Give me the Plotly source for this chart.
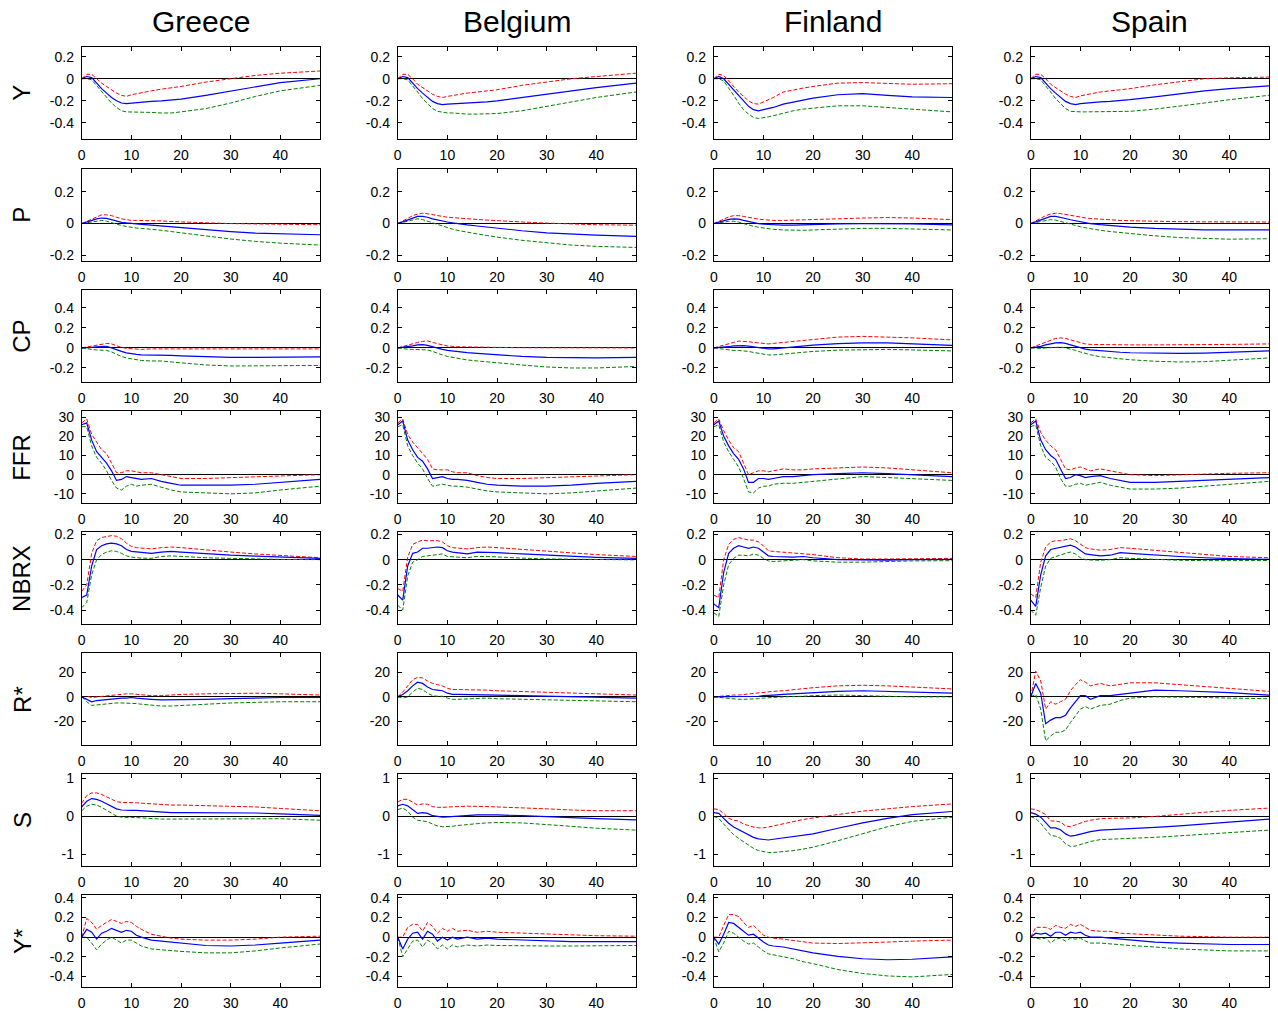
import plotly.graph_objects as go

W, H = 1278, 1017

LAGS = [0, 1, 2, 3, 4, 5, 6, 7, 8, 9, 10, 11, 12, 14, 16, 18, 20, 25, 30, 35, 40, 48]
COUNTRIES = ["Greece", "Belgium", "Finland", "Spain"]
VARIABLES = ["Y", "P", "CP", "FFR", "NBRX", "R*", "S", "Y*"]

Y_RANGES = {"Y": [-0.545, 0.29], "P": [-0.235, 0.345], "CP": [-0.34, 0.58], "FFR": [-14.8, 33.3],
            "NBRX": [-0.51, 0.22], "R*": [-39.5, 36], "S": [-1.31, 1.12], "Y*": [-0.51, 0.43]}
Y_TICKS = {"Y": [0.2, 0, -0.2, -0.4], "P": [0.2, 0, -0.2], "CP": [0.4, 0.2, 0, -0.2],
           "FFR": [30, 20, 10, 0, -10], "NBRX": [0.2, 0, -0.2, -0.4], "R*": [20, 0, -20],
           "S": [1, 0, -1], "Y*": [0.4, 0.2, 0, -0.2, -0.4]}
Y_TICKTEXT = {"Y": ["0.2", "0", "-0.2", "-0.4"], "P": ["0.2", "0", "-0.2"], "CP": ["0.4", "0.2", "0", "-0.2"],
              "FFR": ["30", "20", "10", "0", "-10"], "NBRX": ["0.2", "0", "-0.2", "-0.4"], "R*": ["20", "0", "-20"],
              "S": ["1", "0", "-1"], "Y*": ["0.4", "0.2", "0", "-0.2", "-0.4"]}
X_TICKS = [0, 10, 20, 30, 40]

# ---------------- Y ----------------
Y_GR_HI = [0, .04, .04, 0, -.04, -.07, -.10, -.13, -.15, -.16, -.145, -.135, -.125, -.11, -.095, -.085, -.07, -.03, 0, .03, .05, .07]
Y_GR_MED = [0, .02, .01, -.04, -.09, -.13, -.17, -.20, -.22, -.225, -.22, -.215, -.21, -.205, -.20, -.195, -.185, -.15, -.11, -.07, -.035, 0]
Y_GR_LO = [0, 0, -.01, -.06, -.12, -.17, -.22, -.26, -.29, -.30, -.30, -.30, -.30, -.305, -.31, -.31, -.30, -.27, -.22, -.16, -.11, -.06]
Y_BE_HI = [0, .04, .04, 0, -.05, -.08, -.11, -.14, -.16, -.17, -.16, -.15, -.145, -.13, -.12, -.11, -.10, -.06, -.03, 0, .02, .05]
Y_BE_MED = [0, .02, .01, -.04, -.09, -.13, -.17, -.205, -.225, -.235, -.23, -.228, -.225, -.22, -.215, -.21, -.20, -.17, -.14, -.11, -.08, -.04]
Y_BE_LO = [0, 0, -.01, -.06, -.12, -.18, -.23, -.27, -.295, -.305, -.31, -.31, -.315, -.32, -.32, -.32, -.315, -.29, -.25, -.21, -.17, -.12]
Y_FI_HI = [0, .04, .03, -.02, -.07, -.12, -.16, -.20, -.225, -.23, -.21, -.19, -.17, -.12, -.10, -.085, -.07, -.04, -.035, -.045, -.05, -.045]
Y_FI_MED = [0, .02, 0, -.05, -.10, -.15, -.20, -.25, -.28, -.29, -.28, -.27, -.26, -.23, -.21, -.19, -.175, -.145, -.135, -.15, -.165, -.17]
Y_FI_LO = [0, 0, -.02, -.08, -.15, -.22, -.28, -.32, -.35, -.36, -.355, -.345, -.335, -.31, -.29, -.275, -.265, -.245, -.245, -.26, -.28, -.30]
Y_ES_HI = [0, .04, .04, 0, -.05, -.08, -.11, -.14, -.16, -.17, -.155, -.145, -.135, -.12, -.11, -.10, -.09, -.055, -.025, 0, .008, .015]
Y_ES_MED = [0, .02, .01, -.04, -.09, -.13, -.17, -.205, -.225, -.235, -.225, -.22, -.22, -.21, -.205, -.20, -.19, -.165, -.135, -.11, -.09, -.065]
Y_ES_LO = [0, 0, -.01, -.06, -.12, -.18, -.23, -.27, -.295, -.30, -.30, -.30, -.30, -.30, -.30, -.298, -.295, -.275, -.25, -.22, -.19, -.15]

# ---------------- P ----------------
P_GR_HI = [0, .015, .03, .045, .055, .055, .05, .04, .03, .025, .02, .02, .02, .02, .017, .013, .01, .005, 0, -.002, -.005, -.007]
P_GR_MED = [0, .01, .02, .03, .035, .033, .025, .015, .008, .004, 0, -.002, -.005, -.01, -.015, -.02, -.025, -.04, -.05, -.06, -.065, -.07]
P_GR_LO = [0, .005, .01, .018, .02, .015, .005, -.005, -.012, -.018, -.025, -.028, -.03, -.035, -.042, -.05, -.058, -.078, -.097, -.112, -.123, -.135]
P_BE_HI = [0, .018, .035, .05, .06, .065, .062, .055, .05, .045, .04, .037, .034, .03, .026, .022, .018, .01, .003, -.003, -.007, -.01]
P_BE_MED = [0, .012, .025, .037, .045, .045, .04, .03, .022, .015, .01, .005, 0, -.008, -.015, -.022, -.03, -.045, -.058, -.067, -.073, -.08]
P_BE_LO = [0, .008, .016, .025, .03, .025, .015, .003, -.008, -.018, -.027, -.035, -.042, -.055, -.065, -.075, -.085, -.105, -.122, -.135, -.143, -.15]
P_FI_HI = [0, .015, .03, .042, .05, .05, .045, .038, .032, .028, .025, .022, .02, .02, .021, .023, .025, .03, .035, .038, .035, .025]
P_FI_MED = [0, .01, .02, .027, .03, .028, .02, .012, .005, 0, -.004, -.006, -.008, -.01, -.01, -.008, -.005, -.002, 0, 0, -.002, -.008]
P_FI_LO = [0, .005, .01, .014, .015, .01, 0, -.01, -.017, -.023, -.028, -.032, -.036, -.04, -.042, -.042, -.04, -.035, -.03, -.03, -.033, -.04]
P_ES_HI = [0, .018, .035, .05, .06, .065, .063, .057, .05, .045, .04, .036, .032, .027, .023, .02, .018, .014, .012, .011, .01, .01]
P_ES_MED = [0, .012, .025, .037, .045, .045, .04, .032, .024, .017, .01, .005, 0, -.007, -.013, -.018, -.022, -.03, -.036, -.039, -.04, -.04]
P_ES_LO = [0, .007, .014, .02, .025, .022, .013, .003, -.005, -.012, -.02, -.026, -.032, -.042, -.05, -.057, -.063, -.077, -.088, -.095, -.098, -.095]

# ---------------- CP ----------------
CP_GR_HI = [0, .01, .02, .03, .04, .045, .04, .02, .005, -.005, -.01, -.015, -.015, -.01, -.01, -.01, -.01, -.01, -.01, -.01, -.01, -.01]
CP_GR_MED = [0, 0, .005, .01, .015, .015, 0, -.02, -.035, -.05, -.06, -.065, -.07, -.07, -.07, -.075, -.08, -.09, -.095, -.095, -.095, -.09]
CP_GR_LO = [0, -.01, -.015, -.02, -.02, -.025, -.04, -.065, -.085, -.10, -.11, -.12, -.125, -.13, -.13, -.14, -.15, -.17, -.18, -.18, -.18, -.175]
CP_BE_HI = [0, .015, .025, .04, .055, .065, .07, .055, .04, .03, .02, .015, .012, .01, .01, .008, .005, .002, 0, 0, 0, 0]
CP_BE_MED = [0, .005, .01, .02, .03, .033, .025, .01, 0, -.015, -.025, -.032, -.038, -.047, -.055, -.062, -.07, -.085, -.095, -.10, -.10, -.095]
CP_BE_LO = [0, -.008, -.012, -.015, -.015, -.015, -.02, -.035, -.055, -.07, -.085, -.095, -.105, -.12, -.13, -.14, -.15, -.17, -.19, -.20, -.20, -.185]
CP_FI_HI = [0, .012, .025, .04, .055, .068, .068, .062, .055, .05, .045, .04, .045, .055, .065, .077, .09, .108, .115, .11, .10, .08]
CP_FI_MED = [0, .003, .006, .012, .02, .025, .023, .018, .01, .003, -.004, -.01, -.01, 0, .01, .02, .028, .042, .05, .05, .042, .025]
CP_FI_LO = [0, -.008, -.015, -.02, -.025, -.025, -.028, -.035, -.045, -.055, -.065, -.07, -.07, -.06, -.05, -.042, -.035, -.022, -.015, -.015, -.02, -.03]
CP_ES_HI = [0, .02, .04, .06, .08, .095, .10, .095, .08, .065, .05, .04, .035, .032, .03, .03, .03, .03, .03, .032, .035, .04]
CP_ES_MED = [0, .005, .015, .03, .042, .05, .052, .045, .03, .015, 0, -.012, -.02, -.03, -.037, -.043, -.048, -.055, -.055, -.052, -.045, -.03]
CP_ES_LO = [0, -.005, -.005, 0, .005, .01, .008, 0, -.01, -.025, -.04, -.055, -.068, -.088, -.10, -.11, -.118, -.133, -.14, -.137, -.125, -.10]

# ---------------- FFR ----------------
FFR_GR_HI = [27, 29, 21, 17, 13, 11, 6, 1, 1, 2, 2, 1.5, 1, 1, 0, -1, -2, -2, -1.5, -1, -.5, 0]
FFR_GR_MED = [26, 27, 18, 12, 9, 6, 2, -3, -2.5, -1, -1.5, -2, -2.5, -2, -3.5, -4.5, -5.5, -5.5, -5.5, -5, -4, -2.5]
FFR_GR_LO = [25, 25, 15, 9, 6, 2, -3, -7, -8, -6, -5, -6, -5.5, -5, -6.5, -8, -9, -9.5, -10, -9.5, -8, -6]
FFR_BE_HI = [27, 29, 21, 17, 14, 11, 8, 3, 2.5, 2.5, 2.5, 1.5, 1, 1, -.5, -1.5, -2, -2, -1.5, -1, -.5, 0]
FFR_BE_MED = [26, 28, 18, 13, 9, 7, 3, -2, -1.5, -1, -2, -2.5, -2.5, -3, -4, -5, -5.5, -6, -6, -5.5, -4.5, -3.5]
FFR_BE_LO = [25, 26, 15, 10, 6, 3, -2, -6, -5.5, -5, -5.5, -6, -6, -6.5, -7.5, -8.5, -9, -9.5, -10, -9.5, -8.5, -7]
FFR_FI_HI = [27, 29, 23, 18, 14, 12, 6, 0, 1, 2, 2, 1.5, 2, 3, 2.5, 2.5, 3, 3.5, 4, 3.5, 2.5, 1]
FFR_FI_MED = [26, 28, 20, 15, 11, 8, 3, -4, -4, -2, -2, -2.5, -2, -1, -1, -.5, 0, .5, 1, .5, 0, -1]
FFR_FI_LO = [25, 26, 17, 12, 8, 4, -2, -9, -9.5, -7, -6, -6, -5, -4.5, -4.5, -4, -3.5, -2, -1, -1.5, -2, -3]
FFR_ES_HI = [27, 29, 22, 18, 15, 13, 8, 3, 2.5, 3.5, 4, 3, 2, 3, 2, 1, 0, -.5, 0, .3, .7, 1]
FFR_ES_MED = [26, 28, 18, 13, 10, 8, 3, -2, -1.5, 0, -.5, -1.5, -1, -.5, -2, -3, -4, -4, -3.5, -3, -2.5, -1.5]
FFR_ES_LO = [25, 26, 15, 9, 7, 4, -2, -6, -6, -5, -4.5, -5.5, -5, -4, -5.5, -6.5, -7.5, -7.5, -7, -6, -5, -3.5]

# ---------------- NBRX ----------------
NBRX_GR_HI = [-.25, -.20, .05, .15, .175, .185, .19, .185, .165, .13, .105, .095, .09, .085, .095, .10, .095, .075, .06, .045, .035, .015]
NBRX_GR_MED = [-.30, -.28, -.05, .08, .11, .125, .13, .125, .11, .08, .065, .06, .055, .05, .06, .065, .06, .045, .035, .028, .02, .01]
NBRX_GR_LO = [-.38, -.34, -.12, 0, .04, .06, .07, .065, .05, .03, .02, .015, .012, .01, .025, .03, .025, .015, .01, .005, .002, 0]
NBRX_BE_HI = [-.23, -.25, .02, .12, .14, .155, .15, .15, .15, .14, .11, .095, .09, .085, .095, .10, .095, .08, .065, .05, .04, .025]
NBRX_BE_MED = [-.28, -.32, -.05, .05, .06, .09, .09, .095, .10, .095, .07, .06, .055, .045, .06, .06, .055, .045, .035, .025, .018, .01]
NBRX_BE_LO = [-.36, -.40, -.13, -.02, 0, .025, .03, .035, .045, .045, .025, .02, .02, .015, .025, .025, .02, .012, .006, .003, 0, -.002]
NBRX_FI_HI = [-.28, -.30, 0, .12, .16, .175, .165, .155, .155, .14, .11, .07, .065, .06, .055, .05, .04, .015, .005, .005, .008, .01]
NBRX_FI_MED = [-.35, -.38, -.10, .05, .09, .11, .10, .09, .10, .09, .06, .03, .025, .02, .02, .025, .015, 0, -.005, -.005, 0, .002]
NBRX_FI_LO = [-.42, -.45, -.20, -.04, .01, .035, .035, .03, .045, .035, .01, -.01, -.015, -.01, -.005, 0, -.01, -.02, -.02, -.015, -.01, -.008]
NBRX_ES_HI = [-.27, -.30, -.02, .10, .14, .15, .15, .16, .165, .15, .12, .095, .085, .075, .08, .095, .09, .075, .055, .04, .025, .015]
NBRX_ES_MED = [-.32, -.37, -.12, .03, .08, .09, .095, .11, .115, .10, .07, .045, .04, .03, .035, .055, .05, .035, .025, .015, .008, .003]
NBRX_ES_LO = [-.40, -.44, -.22, -.05, .01, .025, .035, .05, .06, .045, .015, 0, -.003, -.005, 0, .015, .01, 0, -.005, -.008, -.008, -.007]

# ---------------- R* ----------------
RS_GR_HI = [0, .5, -.5, 0, .5, .5, 1, 1.5, 2, 2.5, 2.5, 2, 1.5, 1, 1, 1.5, 2, 2.5, 3, 3, 2.5, 1.5]
RS_GR_MED = [0, -2, -4, -3, -2.5, -2, -1.5, -1.5, -1, -1, -.5, -1, -1.5, -2, -2.5, -2.5, -2.5, -2, -1.5, -1, -.5, -.5]
RS_GR_LO = [0, -4, -7, -6.5, -6, -6, -5.5, -5, -5, -5, -5, -5.5, -6, -7, -7.5, -7.5, -7, -6, -5, -4.5, -4, -4]
RS_BE_HI = [0, 4, 9, 14, 16, 15.5, 13, 11, 10, 9, 7, 6, 6, 6, 6, 5.5, 5, 4.5, 4, 3, 2.5, 1.5]
RS_BE_MED = [0, 2, 5, 9, 12, 11, 8, 6, 5.5, 5, 3, 2, 2, 2, 2, 2, 1.5, 1, .5, 0, -.5, -1]
RS_BE_LO = [0, -1, 0, 4, 7, 6, 3, 1, .5, .5, -1, -2, -2, -1.5, -1, -1, -1.5, -2, -2.5, -3, -3.5, -4]
RS_FI_HI = [0, .5, 1, 1, 1.5, 1.5, 2, 2, 2.5, 3, 3.5, 4, 4.5, 5, 6, 7, 7.5, 9, 9.5, 9, 8, 6.5]
RS_FI_MED = [0, 0, 0, 0, 0, 0, 0, 0, .5, .5, 1, 1, 1.5, 2, 2.5, 3, 3.5, 4.5, 5, 4.5, 4, 3]
RS_FI_LO = [0, -.5, -1, -1.5, -2, -2, -2, -2, -1.5, -1.5, -1, -.5, -.5, 0, 0, .5, 1, 1.5, 1, .5, 0, 0]
RS_ES_HI = [0, 21, 13, -10, -4, -6, -4, -2, 5, 10, 14, 12, 9, 11, 9, 10, 11.5, 11.5, 10, 8.5, 7, 4.5]
RS_ES_MED = [0, 11, 3, -22, -19, -17, -17, -15, -9, -4, 1, 1, -2, 1, 1, 2, 3, 5.5, 5, 4.5, 3.5, 1.5]
RS_ES_LO = [0, 2, -10, -36, -32, -29, -29, -27, -21, -15, -10, -8, -10, -7, -6, -3, -1, 0, 0, -.5, -1, -1.5]

# ---------------- S ----------------
S_GR_HI = [.35, .55, .62, .62, .58, .52, .45, .39, .37, .37, .37, .36, .35, .33, .31, .30, .30, .29, .28, .25, .21, .15]
S_GR_MED = [.25, .40, .47, .45, .40, .33, .26, .20, .17, .16, .16, .16, .15, .13, .11, .10, .10, .10, .10, .09, .07, .03]
S_GR_LO = [.15, .27, .32, .30, .24, .16, .07, .01, -.02, -.03, -.03, -.03, -.04, -.06, -.07, -.07, -.07, -.06, -.05, -.05, -.06, -.10]
S_BE_HI = [.38, .45, .45, .38, .30, .33, .32, .26, .24, .24, .25, .25, .26, .27, .27, .26, .25, .23, .20, .17, .15, .15]
S_BE_MED = [.28, .32, .28, .18, .08, .10, .08, .02, -.01, -.02, -.01, 0, .01, .03, .04, .04, .04, .02, 0, -.03, -.06, -.09]
S_BE_LO = [.18, .22, .14, -.02, -.10, -.12, -.14, -.20, -.25, -.27, -.27, -.26, -.24, -.21, -.19, -.17, -.16, -.17, -.21, -.26, -.31, -.36]
S_FI_HI = [.20, .18, .08, -.05, -.10, -.12, -.20, -.25, -.28, -.30, -.30, -.28, -.25, -.18, -.12, -.08, -.04, .05, .14, .20, .26, .33]
S_FI_MED = [.10, .08, -.05, -.18, -.28, -.35, -.40, -.48, -.55, -.59, -.61, -.62, -.60, -.56, -.53, -.50, -.46, -.31, -.17, -.05, .05, .13]
S_FI_LO = [0, -.05, -.20, -.35, -.48, -.58, -.67, -.76, -.84, -.90, -.93, -.95, -.95, -.93, -.90, -.86, -.81, -.64, -.45, -.27, -.13, -.02]
S_ES_HI = [.20, .18, .12, .05, -.12, -.12, -.15, -.25, -.27, -.22, -.16, -.13, -.10, -.06, -.05, -.05, -.04, 0, .06, .11, .16, .22]
S_ES_MED = [.10, .06, -.02, -.15, -.30, -.30, -.35, -.46, -.52, -.50, -.46, -.43, -.40, -.36, -.35, -.34, -.33, -.29, -.25, -.20, -.15, -.07]
S_ES_LO = [0, -.06, -.18, -.35, -.50, -.52, -.58, -.72, -.79, -.78, -.74, -.70, -.66, -.61, -.60, -.59, -.58, -.55, -.51, -.47, -.43, -.36]

# ---------------- Y* ----------------
YS_GR_HI = [0, .19, .15, .08, .12, .15, .18, .16, .14, .16, .15, .11, .08, .03, .01, -.01, -.02, -.03, -.03, -.02, 0, .01]
YS_GR_MED = [0, .08, .05, -.02, .04, .06, .09, .07, .05, .07, .06, .02, 0, -.03, -.04, -.05, -.06, -.085, -.09, -.08, -.06, -.03]
YS_GR_LO = [0, 0, -.06, -.13, -.07, -.03, 0, -.03, -.06, -.03, -.03, -.06, -.09, -.12, -.13, -.14, -.145, -.16, -.16, -.14, -.11, -.07]
YS_BE_HI = [0, 0, .10, .13, .13, .06, .15, .11, .04, .09, .06, .09, .06, .07, .05, .06, .05, .04, .03, .02, .015, .01]
YS_BE_MED = [0, -.12, -.02, .04, .05, -.02, .06, .03, -.04, 0, -.03, 0, -.02, 0, -.02, -.01, -.02, -.03, -.04, -.045, -.045, -.045]
YS_BE_LO = [0, -.20, -.12, -.04, -.03, -.10, -.03, -.06, -.12, -.08, -.12, -.08, -.10, -.08, -.09, -.08, -.085, -.09, -.09, -.09, -.09, -.085]
YS_FI_HI = [0, 0, .12, .23, .23, .21, .15, .10, .12, .07, .02, 0, -.01, -.02, -.035, -.05, -.06, -.065, -.06, -.05, -.04, -.03]
YS_FI_MED = [0, -.07, .03, .15, .14, .10, .06, .02, .03, -.01, -.05, -.08, -.09, -.10, -.12, -.14, -.16, -.195, -.22, -.23, -.225, -.20]
YS_FI_LO = [0, -.15, -.06, .06, .04, 0, -.04, -.07, -.06, -.10, -.14, -.17, -.18, -.20, -.22, -.25, -.27, -.33, -.37, -.395, -.405, -.38]
YS_ES_HI = [0, .10, .10, .10, .08, .12, .10, .09, .13, .11, .13, .10, .07, .06, .06, .04, .035, .02, .01, .005, 0, 0]
YS_ES_MED = [0, .04, .03, .04, .01, .05, .05, .02, .05, .04, .05, .02, 0, 0, -.01, -.02, -.03, -.05, -.06, -.07, -.075, -.075]
YS_ES_LO = [0, -.01, -.02, -.01, -.06, -.02, -.01, -.04, -.01, -.02, -.01, -.04, -.06, -.06, -.07, -.08, -.085, -.10, -.12, -.13, -.14, -.14]

IRF = {
    "Y": [(Y_GR_HI, Y_GR_MED, Y_GR_LO), (Y_BE_HI, Y_BE_MED, Y_BE_LO), (Y_FI_HI, Y_FI_MED, Y_FI_LO), (Y_ES_HI, Y_ES_MED, Y_ES_LO)],
    "P": [(P_GR_HI, P_GR_MED, P_GR_LO), (P_BE_HI, P_BE_MED, P_BE_LO), (P_FI_HI, P_FI_MED, P_FI_LO), (P_ES_HI, P_ES_MED, P_ES_LO)],
    "CP": [(CP_GR_HI, CP_GR_MED, CP_GR_LO), (CP_BE_HI, CP_BE_MED, CP_BE_LO), (CP_FI_HI, CP_FI_MED, CP_FI_LO), (CP_ES_HI, CP_ES_MED, CP_ES_LO)],
    "FFR": [(FFR_GR_HI, FFR_GR_MED, FFR_GR_LO), (FFR_BE_HI, FFR_BE_MED, FFR_BE_LO), (FFR_FI_HI, FFR_FI_MED, FFR_FI_LO), (FFR_ES_HI, FFR_ES_MED, FFR_ES_LO)],
    "NBRX": [(NBRX_GR_HI, NBRX_GR_MED, NBRX_GR_LO), (NBRX_BE_HI, NBRX_BE_MED, NBRX_BE_LO), (NBRX_FI_HI, NBRX_FI_MED, NBRX_FI_LO), (NBRX_ES_HI, NBRX_ES_MED, NBRX_ES_LO)],
    "R*": [(RS_GR_HI, RS_GR_MED, RS_GR_LO), (RS_BE_HI, RS_BE_MED, RS_BE_LO), (RS_FI_HI, RS_FI_MED, RS_FI_LO), (RS_ES_HI, RS_ES_MED, RS_ES_LO)],
    "S": [(S_GR_HI, S_GR_MED, S_GR_LO), (S_BE_HI, S_BE_MED, S_BE_LO), (S_FI_HI, S_FI_MED, S_FI_LO), (S_ES_HI, S_ES_MED, S_ES_LO)],
    "Y*": [(YS_GR_HI, YS_GR_MED, YS_GR_LO), (YS_BE_HI, YS_BE_MED, YS_BE_LO), (YS_FI_HI, YS_FI_MED, YS_FI_LO), (YS_ES_HI, YS_ES_MED, YS_ES_LO)],
}

# ---------------- layout geometry (window pixels) ----------------
COL_LEFT = [78, 395, 712, 1030]
PANEL_W = 239
ROW_TOP = [41, 164, 286, 408, 530, 652, 774, 896]
PANEL_H = 93
TITLE_Y = 16
ROWLABEL_X = 18


def px_x(x):
    return x / W


def px_y(y):
    return 1 - y / H


FONT = "Liberation Sans, Arial, Helvetica, sans-serif"
RED, BLUE, GREEN = "#ff0000", "#0000ff", "#008000"

fig = go.Figure()
layout = dict(
    width=W, height=H, autosize=False,
    margin=dict(l=0, r=0, t=0, b=0),
    paper_bgcolor="white", plot_bgcolor="white",
    showlegend=False,
    font=dict(family=FONT, size=14, color="black"),
)

annotations = []
for r, var in enumerate(VARIABLES):
    for c, country in enumerate(COUNTRIES):
        idx = r * 4 + c + 1
        xs = "x" if idx == 1 else f"x{idx}"
        ys = "y" if idx == 1 else f"y{idx}"
        hi, med, lo = IRF[var][c]
        fig.add_trace(go.Scatter(x=LAGS, y=lo, mode="lines", xaxis=xs, yaxis=ys,
                                 line=dict(color=GREEN, width=1, dash="4px,2px")))
        fig.add_trace(go.Scatter(x=LAGS, y=hi, mode="lines", xaxis=xs, yaxis=ys,
                                 line=dict(color=RED, width=1, dash="4px,2px")))
        fig.add_trace(go.Scatter(x=LAGS, y=med, mode="lines", xaxis=xs, yaxis=ys,
                                 line=dict(color=BLUE, width=1.2)))
        x0 = COL_LEFT[c]
        y0 = ROW_TOP[r]
        xk = "xaxis" if idx == 1 else f"xaxis{idx}"
        yk = "yaxis" if idx == 1 else f"yaxis{idx}"
        layout[xk] = dict(
            domain=[px_x(x0), min(1.0, px_x(x0 + PANEL_W))], anchor=ys, range=[0, 48],
            tickvals=X_TICKS, ticktext=[str(v) for v in X_TICKS],
            ticks="inside", ticklen=4, tickcolor="black", tickwidth=1,
            showline=True, linecolor="black", linewidth=1, mirror="ticks",
            showgrid=False, zeroline=False, ticklabelstandoff=3,
            tickfont=dict(size=14, family=FONT, color="black"),
        )
        layout[yk] = dict(
            domain=[px_y(y0 + PANEL_H), px_y(y0)], anchor=xs, range=Y_RANGES[var],
            tickvals=Y_TICKS[var], ticktext=Y_TICKTEXT[var],
            ticks="inside", ticklen=4, tickcolor="black", tickwidth=1,
            showline=True, linecolor="black", linewidth=1, mirror="ticks",
            showgrid=False, zeroline=True, zerolinecolor="black", zerolinewidth=1,
            ticklabelstandoff=4,
            tickfont=dict(size=14, family=FONT, color="black"),
        )
    annotations.append(dict(
        text=var, x=px_x(ROWLABEL_X), y=px_y(ROW_TOP[r] + PANEL_H / 2), xref="paper", yref="paper",
        xanchor="center", yanchor="middle", textangle=-90, showarrow=False,
        font=dict(size=24, family=FONT, color="black"),
    ))

for c, country in enumerate(COUNTRIES):
    annotations.append(dict(
        text=country, x=px_x(COL_LEFT[c] + PANEL_W / 2), y=px_y(TITLE_Y), xref="paper", yref="paper",
        xanchor="center", yanchor="middle", showarrow=False,
        font=dict(size=30, family=FONT, color="black"),
    ))

layout["annotations"] = annotations
fig.update_layout(**layout)
# remove the default page margin so the figure fills the window exactly; hide the mode bar
fig.write_html("out.html", config={"displayModeBar": False},
               post_script="document.body.style.margin='0';document.body.style.overflow='hidden';")
